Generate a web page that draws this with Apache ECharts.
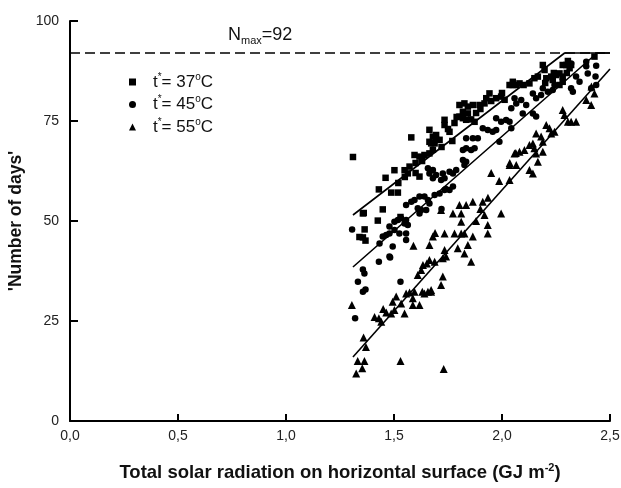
<!DOCTYPE html>
<html>
<head>
<meta charset="utf-8">
<script src="https://cdn.jsdelivr.net/npm/echarts@6/dist/echarts.min.js"></script>
<style>html,body{margin:0;padding:0;background:#fff}#c{width:621px;height:488px}</style>
</head>
<body>
<div id="c"></div>
<script>
const xTicks = [0, 0.5, 1.0, 1.5, 2.0, 2.5];
const yTicks = [0, 25, 50, 75, 100];
const seriesNames = ['t37', 't45', 't55'];
const legendLabels = { t37: '37', t45: '45', t55: '55' };
const nMax = 92;

const squares37 = [[1.31,66],[1.36,52],[1.34,46],[1.356,45.9],[1.368,45.1],[1.364,47.9],[1.425,50.1],[1.356,51.9],[1.448,52.9],[1.43,57.9],[1.487,57.1],[1.518,57.1],[1.461,60.8],[1.502,62.7],[1.549,62.7],[1.564,61.9],[1.572,63.6],[1.618,61.1],[1.58,70.9],[1.595,66.5],[1.618,66.1],[1.641,66.5],[1.664,66.9],[1.68,67.8],[1.672,69.4],[1.68,71.1],[1.695,70.3],[1.695,71.5],[1.664,69.8],[1.688,69.4],[1.711,70.3],[1.664,72.8],[1.734,75.3],[1.734,74],[1.757,72.3],[1.803,79],[1.826,79.4],[1.842,78.6],[1.865,79],[1.819,77.3],[1.842,76.9],[1.803,76.1],[1.819,75.7],[1.834,75.3],[1.857,75.4],[1.873,74.8],[1.896,79],[1.919,79.4],[1.927,80.7],[1.942,81.9],[1.973,80.7],[1.996,81.1],[2.012,80.3],[2.035,84],[2.05,84],[2.05,84.8],[2.066,84],[2.081,84.4],[2.127,84.4],[2.15,85.7],[2.166,86.1],[2.205,85.7],[2.228,86.1],[2.235,85.25],[2.251,86.5],[2.266,86.9],[2.281,86.1],[2.189,89],[2.197,87.75],[2.281,89],[2.297,89],[2.32,89],[2.305,90],[2.313,88.2],[2.428,91.1],[2.266,84],[2.281,84.8],[1.52,59.5],[1.55,61],[1.6,64.5],[1.63,65],[1.75,73],[1.78,74.5],[1.79,76],[1.88,77],[1.9,78],[1.95,80],[2.0,82],[2.1,84],[2.2,84.5],[2.24,87],[2.3,87],[1.53,51],[1.6,62],[1.72,68.5],[1.77,70]];

const circles45 = [[1.306,47.9],[1.32,25.7],[1.333,34.8],[1.356,32.3],[1.368,32.9],[1.356,37.9],[1.363,36.9],[1.43,39.8],[1.482,40.9],[1.53,34.8],[1.479,41.1],[1.433,44.4],[1.494,43.6],[1.448,46.1],[1.464,46.5],[1.479,46.9],[1.479,48.6],[1.502,47.75],[1.525,46.9],[1.556,46.9],[1.556,45.25],[1.502,49.8],[1.518,50.25],[1.533,50.7],[1.556,50.25],[1.564,49],[1.549,49.4],[1.556,54],[1.58,54.8],[1.595,55.25],[1.618,56.1],[1.641,56.1],[1.657,55.25],[1.664,54.4],[1.649,52.75],[1.626,52.75],[1.61,53.2],[1.618,51.9],[1.657,63.2],[1.664,61.9],[1.68,60.7],[1.688,56.5],[1.711,56.9],[1.734,57.75],[1.757,57.75],[1.773,58.6],[1.68,62.75],[1.695,61.5],[1.718,60.25],[1.734,60.7],[1.726,61.9],[1.757,62.3],[1.773,61.9],[1.788,62.75],[1.819,65.25],[1.834,64.8],[1.826,64],[1.819,67.75],[1.834,68.2],[1.857,67.75],[1.873,68.2],[1.834,70.7],[1.865,70.7],[1.888,70.7],[1.911,73.2],[1.934,72.75],[1.957,72.3],[1.973,72.75],[1.973,75.7],[1.988,69.8],[1.996,74.8],[2.019,75.25],[2.035,74.8],[2.043,73.2],[2.043,78.2],[2.058,80.7],[2.066,79.4],[2.089,80.25],[2.112,79],[2.096,76.9],[2.143,76.9],[2.158,76.1],[2.143,81.9],[2.158,80.7],[2.181,81.5],[2.189,83.2],[2.212,82.3],[2.235,82.75],[2.243,84],[2.32,83.2],[2.328,82.3],[2.343,86.1],[2.359,84.8],[2.39,89.8],[2.436,88.8],[2.397,86.9],[2.433,86.1],[2.436,84],[2.413,83.2],[2.32,89.4],[2.39,88.7],[1.72,53],[1.74,58]];

const triangles55 = [[1.305,29],[1.325,11.9],[1.353,13.2],[1.332,15],[1.363,15],[1.359,20.9],[1.53,15],[1.73,13],[1.43,25.7],[1.441,24.8],[1.464,27.1],[1.487,26.9],[1.502,27.75],[1.549,26.9],[1.494,29.8],[1.51,31.1],[1.533,29.4],[1.556,31.9],[1.572,32.1],[1.595,32.3],[1.587,30.7],[1.618,29],[1.587,29],[1.631,32.3],[1.641,31.9],[1.657,32.3],[1.672,32.3],[1.61,36.5],[1.626,37.75],[1.634,39],[1.652,39.4],[1.664,40.25],[1.688,39.8],[1.726,36.1],[1.718,34],[1.672,32.75],[1.68,46.1],[1.734,46.9],[1.78,46.9],[1.811,46.9],[1.826,46.9],[1.865,46.1],[1.664,44],[1.734,42.75],[1.795,43.2],[1.842,44],[1.826,41.9],[1.857,39.8],[1.726,40.7],[1.741,41.1],[1.773,51.9],[1.811,51.9],[1.811,49.8],[1.718,52.75],[1.803,54],[1.834,54],[1.865,54.8],[1.911,54.8],[1.919,51.5],[1.934,49],[1.934,46.9],[1.996,51.9],[1.95,62],[1.987,60],[1.935,55.8],[2.036,64.5],[2.064,67],[2.035,64],[2.066,64],[2.166,64.8],[2.127,62.75],[2.143,61.9],[2.035,60.25],[2.058,66.9],[2.081,67.3],[2.104,67.75],[2.127,69],[2.143,69.4],[2.15,68.2],[2.158,66.9],[2.189,67.3],[2.158,71.9],[2.181,71.1],[2.189,69.8],[2.205,74],[2.22,73.2],[2.228,71.9],[2.243,72.3],[2.281,77.75],[2.289,76.5],[2.305,74.8],[2.32,74.8],[2.343,74.8],[2.39,80.25],[2.428,81.9],[2.413,79],[2.414,83.6],[1.59,43.8],[1.69,47],[1.41,26],[1.45,28],[1.37,18.5],[1.88,50],[1.9,53]];

const fit37 = [[1.31,51.5],[2.29,92],[2.5,92]];
const fit45 = [[1.31,38.5],[2.44,92],[2.5,92]];
const fit55 = [[1.31,16],[2.5,88]];
const nMaxLine = [[0,nMax],[2.5,nMax]];

const font = 'Liberation Sans, Arial, sans-serif';
const chart = echarts.init(document.getElementById('c'), null, { renderer: 'canvas' });

const sym = { t37: 'rect', t45: 'circle', t55: 'triangle' };
const symSize = { t37: 6.5, t45: 6.5, t55: 8 };
const dataMap = { t37: squares37, t45: circles45, t55: triangles55 };

const scatterSeries = seriesNames.map(n => ({
  name: n, type: 'scatter', data: dataMap[n], symbol: sym[n], symbolSize: symSize[n],
  itemStyle: { color: '#000', opacity: 1 }, silent: true, z: 3
}));
const lineStyle = { color: '#000', width: 1.6 };
const fitSeries = [fit37, fit45, fit55].map(d => ({
  type: 'line', data: d, showSymbol: false, symbol: 'none', lineStyle: lineStyle, silent: true, z: 4
}));

chart.setOption({
  animation: false,
  backgroundColor: '#fff',
  textStyle: { fontFamily: font },
  grid: { left: 70, right: 11, top: 21, bottom: 67, containLabel: false, outerBoundsMode: 'none' },
  legend: {
    data: seriesNames.map(n => ({ name: n, icon: sym[n], itemStyle: { opacity: 1 } })),
    orient: 'vertical', left: 124, top: 67,
    itemWidth: 7, itemHeight: 7, itemGap: 4,
    selectedMode: false,
    formatter: n => '{g|}{a|t}{s|*}{a|= ' + legendLabels[n] + '}{s|o}{a|C}',
    textStyle: {
      color: '#111', fontFamily: font,
      rich: {
        g: { width: 12 },
        a: { fontSize: 17, lineHeight: 20, fontFamily: font, color: '#111' },
        s: { fontSize: 10, lineHeight: 20, verticalAlign: 'top', fontFamily: font, color: '#111', padding: [0, 0, 6, 0] }
      }
    }
  },
  xAxis: {
    type: 'value', min: 0, max: 2.5, interval: 0.5,
    axisLine: { lineStyle: { color: '#000', width: 2 } },
    axisTick: { inside: true, length: 7, lineStyle: { color: '#000', width: 2 } },
    splitLine: { show: false },
    axisLabel: { fontSize: 14, color: '#222', margin: 8, fontFamily: font,
      formatter: v => xTicks.includes(v) ? v.toFixed(1).replace('.', ',') : '' },
    name: '{b|Total solar radiation on horizontal surface (GJ m}{sup|-2}{b|)}',
    nameLocation: 'middle', nameGap: 41,
    nameTextStyle: {
      rich: {
        b: { fontSize: 18.5, fontWeight: 'bold', fontFamily: font, color: '#111', lineHeight: 22 },
        sup: { fontSize: 11, fontWeight: 'bold', fontFamily: font, color: '#111', verticalAlign: 'top', lineHeight: 22, padding: [0, 0, 9, 0] }
      }
    }
  },
  yAxis: {
    type: 'value', min: 0, max: 100, interval: 25,
    axisLine: { show: true, lineStyle: { color: '#000', width: 2 } },
    axisTick: { inside: true, length: 8, lineStyle: { color: '#000', width: 2 } },
    splitLine: { show: false },
    axisLabel: { fontSize: 14, color: '#222', margin: 11, fontFamily: font,
      formatter: v => yTicks.includes(v) ? String(v) : '' },
    name: "'Number of days'",
    nameLocation: 'middle', nameGap: 35,
    nameTextStyle: { fontSize: 17.5, fontWeight: 'bold', color: '#111', fontFamily: font }
  },
  graphic: [{
    type: 'text', left: 228, top: 24, silent: true,
    style: {
      text: '{n|N}{m|max}{n|=92}', fontFamily: font,
      rich: {
        n: { fontSize: 18, fontFamily: font, fill: '#111', lineHeight: 22 },
        m: { fontSize: 11, fontFamily: font, fill: '#111', lineHeight: 22, verticalAlign: 'bottom', padding: [11, 0, 0, 0] }
      }
    }
  }],
  series: [
    { type: 'line', data: nMaxLine, showSymbol: false, symbol: 'none', silent: true, z: 2,
      lineStyle: { color: '#000', width: 1.6, type: [10, 5] } },
    ...fitSeries,
    ...scatterSeries
  ]
});
</script>
</body>
</html>
